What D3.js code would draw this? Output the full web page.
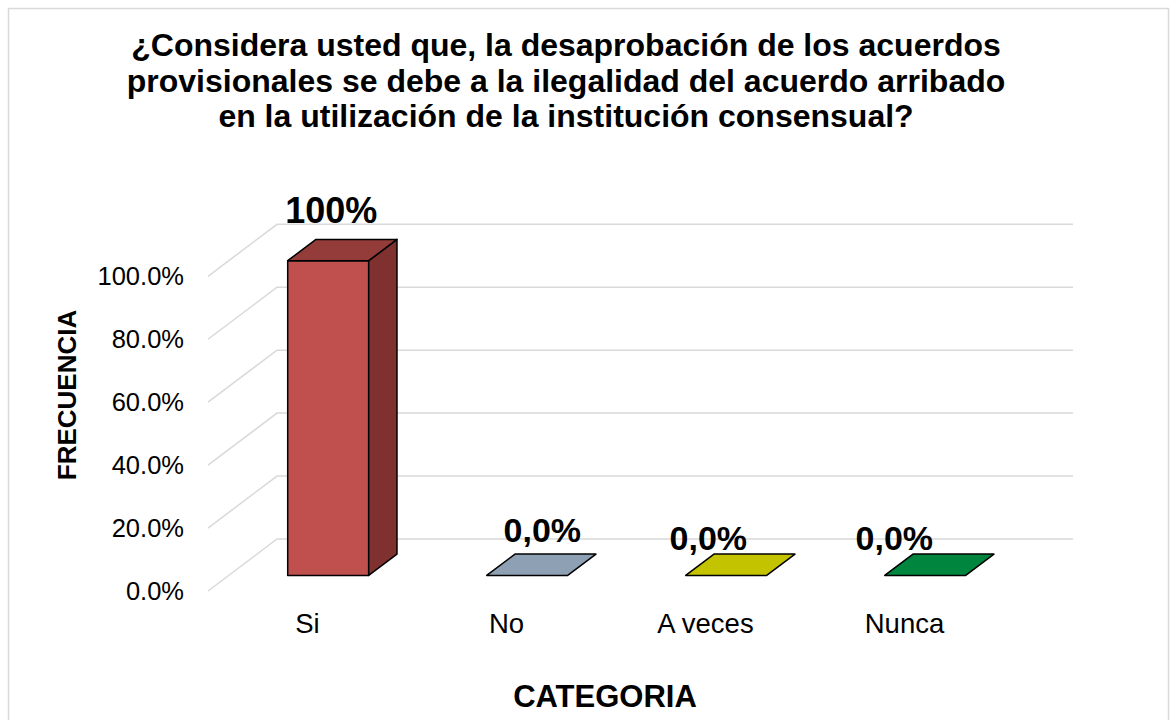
<!DOCTYPE html>
<html>
<head>
<meta charset="utf-8">
<script src="https://cdn.jsdelivr.net/npm/d3@7"></script>
<style>
  html, body { margin: 0; padding: 0; background: #fff; }
  svg { display: block; font-family: Arial, "Liberation Sans", sans-serif; }
</style>
</head>
<body>
<svg id="chart" width="1173" height="720"></svg>
<script>
// ---- data ----
const categories = ["Si", "No", "A veces", "Nunca"];
const values = [1.0, 0.0, 0.0, 0.0];
const dataLabels = ["100%", "0,0%", "0,0%", "0,0%"];
const yTicks = [0, 0.2, 0.4, 0.6, 0.8, 1.0];
const titleLines = [
  "¿Considera usted que, la desaprobación de los acuerdos",
  "provisionales se debe a la ilegalidad del acuerdo arribado",
  "en la utilización de la institución consensual?"
];

// ---- styles / layout ----
const frontColors = ["#C0504D", "#8EA0B4", "#C3C300", "#00853E"];
const topColors   = ["#943C3A", "#8EA0B4", "#C3C300", "#00853E"];
const sideColors  = ["#7F3130", "#6F8196", "#9C9C00", "#006A31"];
const labelNudge  = [[-11, -27], [1, -23], [-32, -15], [-45, -15]];
const labelSize   = [36, 34, 34, 34];

const svg = d3.select("#chart");

// border
svg.append("rect").attr("x", 8.5).attr("y", 8.5).attr("width", 1160).attr("height", 730)
  .attr("fill", "#fff").attr("stroke", "#d9d9d9").attr("stroke-width", 1.5);

// 3D projection: back-plane coords + depth fraction
const DX = 69, DY = 52;
const proj = (xb, yb, d) => [xb - DX * d, yb + DY * d];
const D0 = 0.29, D1 = 0.70;

const x = d3.scaleBand().domain(categories).range([277, 1073])
  .paddingInner(0.593).paddingOuter(0.2965);
const y = d3.scaleLinear().domain([0, 1]).range([539, 224.3]);
const fmt = d3.format(".1%");

// gridlines
const grid = svg.append("g").attr("stroke", "#d9d9d9").attr("stroke-width", 1.5).attr("fill", "none");
yTicks.forEach(t => {
  const yb = y(t);
  const [fx, fy] = proj(277, yb, 1);
  grid.append("path").attr("d", `M${fx},${fy}L277,${yb}L1073,${yb}`);
});

// y tick labels
svg.append("g").selectAll("text").data(yTicks).join("text")
  .attr("x", 184)
  .attr("y", t => proj(277, y(t), 1)[1])
  .attr("dy", "0.36em")
  .attr("text-anchor", "end")
  .attr("font-size", 25.5)
  .attr("fill", "#000")
  .text(t => fmt(t));

// bars
const bars = svg.append("g").attr("stroke", "#000").attr("stroke-width", 1.5).attr("stroke-linejoin", "round");
const poly = pts => "M" + pts.map(p => p.join(",")).join("L") + "Z";
categories.forEach((c, i) => {
  const v = values[i];
  const x0 = x(c), x1 = x0 + x.bandwidth();
  const yv = y(v), y0 = y(0);
  if (y0 - yv > 0.5) {
    bars.append("path").attr("fill", frontColors[i])
      .attr("d", poly([proj(x0, y0, D1), proj(x1, y0, D1), proj(x1, yv, D1), proj(x0, yv, D1)]));
    bars.append("path").attr("fill", sideColors[i])
      .attr("d", poly([proj(x1, yv, D1), proj(x1, yv, D0), proj(x1, y0, D0), proj(x1, y0, D1)]));
  }
  bars.append("path").attr("fill", topColors[i])
    .attr("d", poly([proj(x0, yv, D1), proj(x1, yv, D1), proj(x1, yv, D0), proj(x0, yv, D0)]));
});

// data labels
svg.append("g").selectAll("text").data(categories).join("text")
  .attr("x", (c, i) => proj(x(c) + x.bandwidth() / 2, y(values[i]), (D0 + D1) / 2)[0] + labelNudge[i][0])
  .attr("y", (c, i) => proj(x(c) + x.bandwidth() / 2, y(values[i]), (D0 + D1) / 2)[1] + labelNudge[i][1])
  .attr("text-anchor", "middle")
  .attr("font-weight", "bold")
  .attr("font-size", (c, i) => labelSize[i])
  .attr("fill", "#000")
  .text((c, i) => dataLabels[i]);

// category labels
svg.append("g").selectAll("text").data(categories).join("text")
  .attr("x", c => proj(x(c) + x.bandwidth() / 2, y(0), 1)[0])
  .attr("y", 633)
  .attr("text-anchor", "middle")
  .attr("font-size", 27.5)
  .attr("fill", "#000")
  .text(c => c);

// title
svg.append("g").selectAll("text").data(titleLines).join("text")
  .attr("x", 566)
  .attr("y", (d, i) => 56 + i * 35.5)
  .attr("text-anchor", "middle")
  .attr("font-weight", "bold")
  .attr("font-size", 32)
  .attr("fill", "#000")
  .text(d => d);

// axis titles
svg.append("text")
  .attr("transform", "translate(76,395) rotate(-90)")
  .attr("text-anchor", "middle")
  .attr("font-weight", "bold")
  .attr("font-size", 26)
  .attr("fill", "#000")
  .text("FRECUENCIA");

svg.append("text")
  .attr("x", 605).attr("y", 707)
  .attr("text-anchor", "middle")
  .attr("font-weight", "bold")
  .attr("font-size", 31)
  .attr("fill", "#000")
  .text("CATEGORIA");
</script>
</body>
</html>
